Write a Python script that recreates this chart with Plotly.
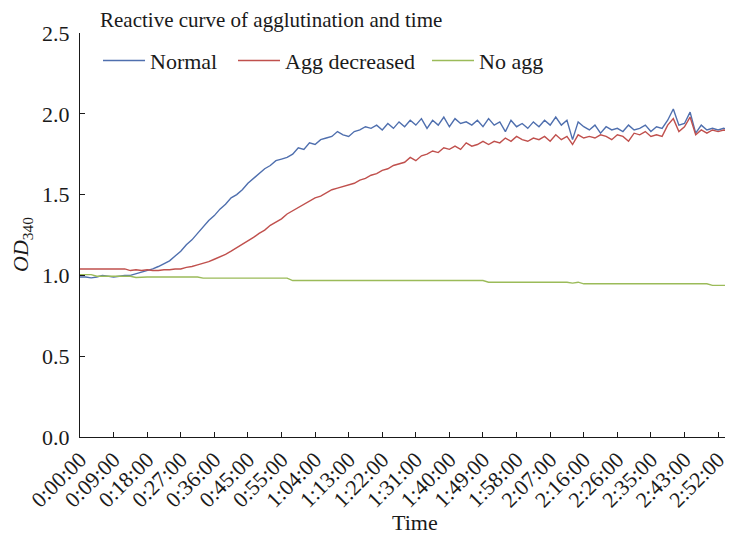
import plotly.graph_objects as go

# sample index (category position) every 3 samples
sample_idx = list(range(0, 354, 3))

tick_pos = list(range(0, 350, 18))
tick_labels = ["0:00:00", "0:09:00", "0:18:00", "0:27:00", "0:36:00", "0:45:00",
               "0:55:00", "1:04:00", "1:13:00", "1:22:00", "1:31:00", "1:40:00",
               "1:49:00", "1:58:00", "2:07:00", "2:16:00", "2:26:00", "2:35:00",
               "2:43:00", "2:52:00"]

normal = [0.99, 0.99, 0.985, 0.99, 1.0, 0.995, 0.99, 0.995, 1.0, 1.0,
          1.01, 1.02, 1.03, 1.04, 1.055, 1.07, 1.09, 1.12, 1.15, 1.19,
          1.22, 1.26, 1.30, 1.34, 1.37, 1.41, 1.44, 1.48, 1.50, 1.53,
          1.57, 1.60, 1.63, 1.66, 1.68, 1.71, 1.72, 1.73, 1.75, 1.79,
          1.78, 1.82, 1.81, 1.84, 1.85, 1.86, 1.89, 1.87, 1.86, 1.89,
          1.90, 1.92, 1.91, 1.93, 1.90, 1.94, 1.91, 1.95, 1.92, 1.96,
          1.93, 1.97, 1.91, 1.96, 1.93, 1.98, 1.92, 1.97, 1.94, 1.95,
          1.93, 1.96, 1.92, 1.97, 1.93, 1.95, 1.89, 1.96, 1.92, 1.94,
          1.91, 1.95, 1.92, 1.96, 1.93, 1.98, 1.93, 1.96, 1.84, 1.95,
          1.92, 1.90, 1.93, 1.88, 1.92, 1.90, 1.91, 1.89, 1.93, 1.90,
          1.91, 1.93, 1.89, 1.92, 1.91, 1.96, 2.03, 1.93, 1.94, 2.01,
          1.88, 1.93, 1.90, 1.91, 1.90, 1.91, 1.90, 1.93]

agg_decreased = [1.04, 1.04, 1.04, 1.04, 1.04, 1.04, 1.04, 1.04, 1.04, 1.03,
                 1.035, 1.03, 1.035, 1.03, 1.03, 1.035, 1.035, 1.04, 1.04, 1.05,
                 1.055, 1.065, 1.075, 1.085, 1.10, 1.115, 1.13, 1.15, 1.17, 1.19,
                 1.21, 1.235, 1.26, 1.28, 1.31, 1.33, 1.35, 1.38, 1.40, 1.42,
                 1.44, 1.46, 1.48, 1.49, 1.51, 1.53, 1.54, 1.55, 1.56, 1.57,
                 1.59, 1.60, 1.62, 1.63, 1.65, 1.66, 1.68, 1.69, 1.70, 1.73,
                 1.71, 1.74, 1.75, 1.77, 1.76, 1.79, 1.78, 1.80, 1.78, 1.82,
                 1.80, 1.81, 1.83, 1.81, 1.83, 1.82, 1.85, 1.83, 1.86, 1.84,
                 1.83, 1.85, 1.84, 1.86, 1.83, 1.87, 1.84, 1.86, 1.81, 1.87,
                 1.85, 1.86, 1.85, 1.87, 1.86, 1.84, 1.87, 1.86, 1.83, 1.88,
                 1.87, 1.89, 1.86, 1.87, 1.86, 1.93, 1.97, 1.89, 1.92, 1.98,
                 1.87, 1.90, 1.88, 1.90, 1.89, 1.90, 1.89, 1.89]

no_agg = [1.005, 1.005, 1.005, 0.995, 0.995, 0.995, 0.995, 0.995, 0.995, 0.995,
          0.987, 0.99, 0.99, 0.99, 0.99, 0.99, 0.99, 0.99, 0.99, 0.99,
          0.99, 0.99, 0.983, 0.983, 0.983, 0.983, 0.983, 0.983, 0.983, 0.983,
          0.983, 0.983, 0.983, 0.983, 0.983, 0.983, 0.983, 0.983, 0.968, 0.968,
          0.968, 0.968, 0.968, 0.968, 0.968, 0.968, 0.968, 0.968, 0.968, 0.968,
          0.968, 0.968, 0.968, 0.968, 0.968, 0.968, 0.968, 0.968, 0.968, 0.968,
          0.968, 0.968, 0.968, 0.968, 0.968, 0.968, 0.968, 0.968, 0.968, 0.968,
          0.968, 0.968, 0.968, 0.958, 0.958, 0.958, 0.958, 0.958, 0.958, 0.958,
          0.958, 0.958, 0.958, 0.958, 0.958, 0.958, 0.958, 0.958, 0.952, 0.958,
          0.948, 0.948, 0.948, 0.948, 0.948, 0.948, 0.948, 0.948, 0.948, 0.948,
          0.948, 0.948, 0.948, 0.948, 0.948, 0.948, 0.948, 0.948, 0.948, 0.948,
          0.948, 0.948, 0.948, 0.938, 0.938, 0.938, 0.938, 0.95]

series_names = ["Normal", "Agg decreased", "No agg"]
series_colors = ["#4f6fae", "#c0504d", "#9bbb59"]
legend_ids = ["legend", "legend2", "legend3"]
legend_x = [0.0276, 0.2343, 0.5314]

font_family = "Liberation Serif, Times New Roman, serif"
txt_color = "#1a1a1a"

fig = go.Figure()
for name, vals, col, lid in zip(series_names, [normal, agg_decreased, no_agg],
                                series_colors, legend_ids):
    fig.add_trace(go.Scatter(x=sample_idx, y=vals, mode="lines", name=name,
                             legend=lid, line=dict(color=col, width=1.4)))

legend_common = dict(orientation="h", xanchor="left", y=0.9314, yanchor="middle",
                     itemwidth=42, bgcolor="rgba(0,0,0,0)",
                     font=dict(family=font_family, size=22, color=txt_color))

# page body has an 8px offset, so the figure is 8px smaller on each used side
fig.update_layout(
    width=725, height=527,
    margin=dict(l=72, r=0, t=25, b=98, autoexpand=False),
    paper_bgcolor="white", plot_bgcolor="white",
    font=dict(family=font_family, size=22, color=txt_color),
    title=dict(text="Reactive curve of agglutination and time",
               font=dict(family=font_family, size=21, color=txt_color),
               x=92 / 725, xanchor="left", y=1 - 12 / 527, yanchor="middle"),
    showlegend=True,
    legend=dict(x=legend_x[0], **legend_common),
    legend2=dict(x=legend_x[1], **legend_common),
    legend3=dict(x=legend_x[2], **legend_common),
    xaxis=dict(range=[0, 350], tickmode="array", tickvals=tick_pos, ticktext=tick_labels,
               tickangle=-45, ticks="inside", ticklen=5, tickcolor=txt_color,
               showline=True, linecolor=txt_color, linewidth=1, showgrid=False,
               zeroline=False, automargin=False,
               tickfont=dict(family=font_family, size=22)),
    yaxis=dict(range=[0, 2.5], tickmode="linear", tick0=0, dtick=0.5, tickformat=".1f",
               ticks="inside", ticklen=5, tickcolor=txt_color, ticklabelstandoff=5,
               showline=True, linecolor=txt_color, linewidth=1, showgrid=False,
               zeroline=False, automargin=False,
               tickfont=dict(family=font_family, size=22)),
    annotations=[
        dict(text="Time", xref="paper", yref="paper", x=0.513, y=(437 - 522) / 404,
             xanchor="center", yanchor="middle", showarrow=False,
             font=dict(family=font_family, size=22, color=txt_color)),
        dict(text="<i>OD</i><sub>340</sub>", xref="paper", yref="paper",
             x=(22 - 80) / 653, y=(437 - 245) / 404, textangle=-90,
             xanchor="center", yanchor="middle", showarrow=False,
             font=dict(family=font_family, size=22, color=txt_color)),
    ],
)

fig.write_html("out.html")
